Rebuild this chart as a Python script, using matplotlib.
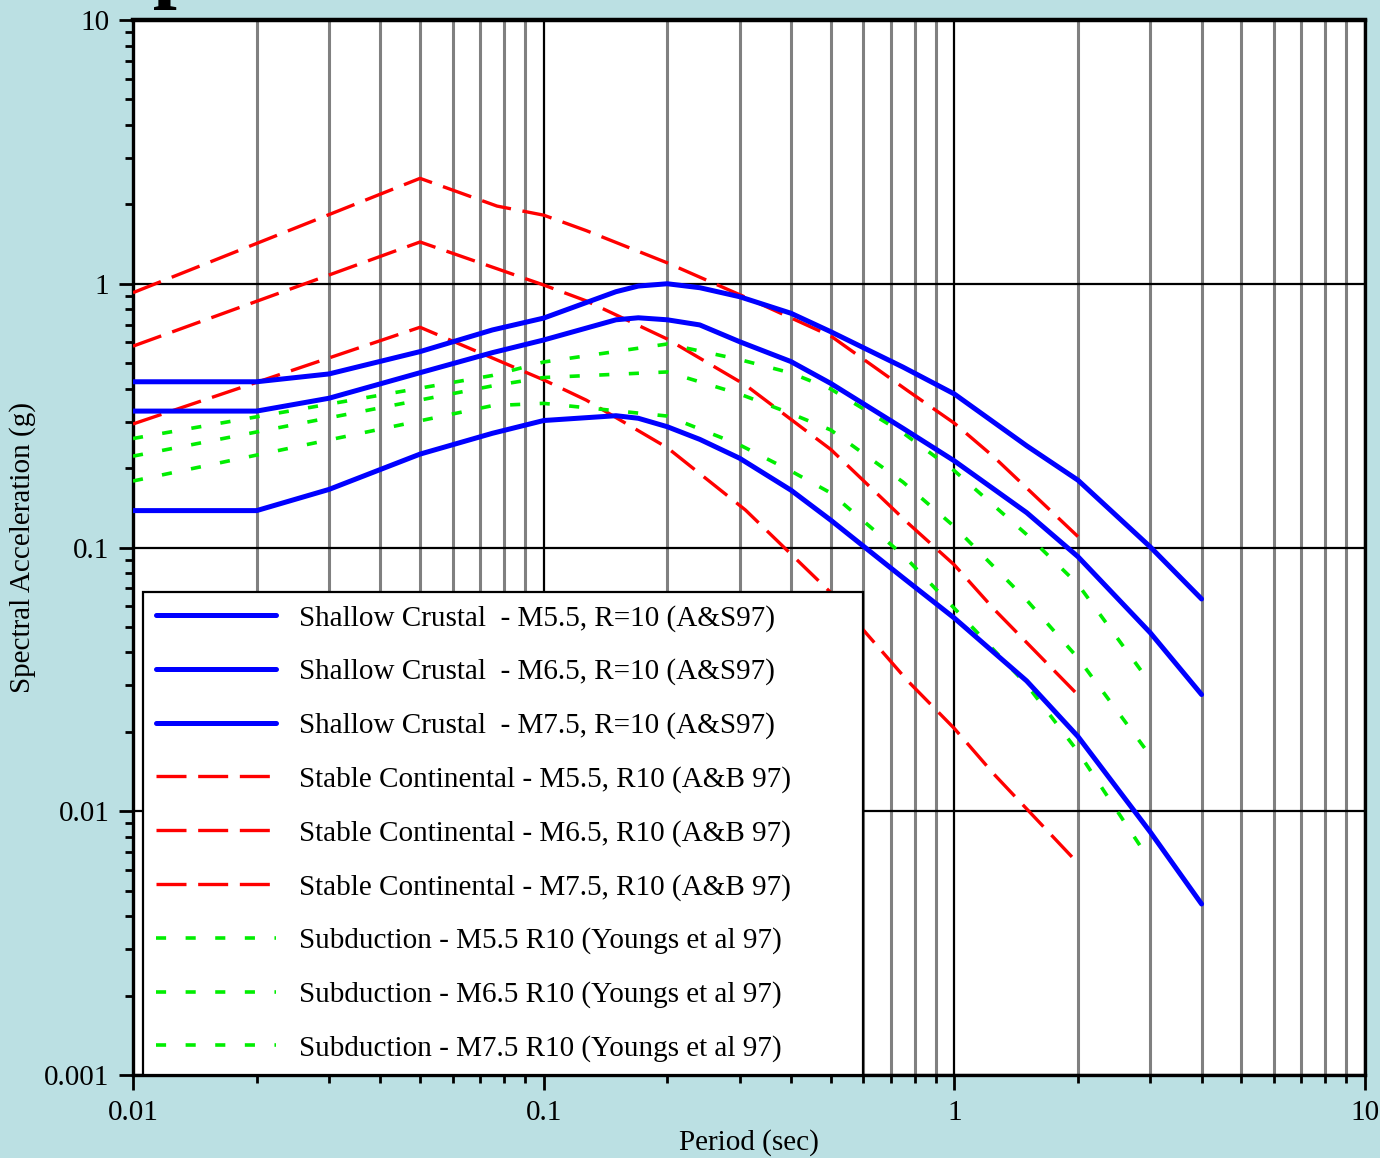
import matplotlib
matplotlib.use("Agg")
import matplotlib.pyplot as plt
from matplotlib.ticker import LogLocator, NullFormatter, FixedLocator, FixedFormatter

plt.rcParams["font.family"] = ["Liberation Serif", "DejaVu Serif"]

# Shallow crustal (Abrahamson & Silva 97), R = 10 km
sc_period = [0.01, 0.02, 0.03, 0.05, 0.075, 0.1, 0.15, 0.17, 0.2, 0.24,
             0.3, 0.4, 0.5, 0.75, 1.0, 1.5, 2.0, 3.0, 4.0]
sc_m55 = [0.138, 0.138, 0.166, 0.226, 0.271, 0.303, 0.316, 0.309, 0.287, 0.257,
          0.218, 0.165, 0.127, 0.0768, 0.054, 0.0312, 0.0192, 0.00834, 0.00445]
sc_m65 = [0.329, 0.329, 0.368, 0.46, 0.548, 0.612, 0.73, 0.743, 0.73, 0.698,
          0.603, 0.507, 0.419, 0.283, 0.213, 0.1356, 0.0923, 0.0475, 0.0277]
sc_m75 = [0.425, 0.425, 0.455, 0.553, 0.668, 0.741, 0.933, 0.98, 1.0, 0.966,
          0.893, 0.773, 0.658, 0.483, 0.382, 0.243, 0.180, 0.1005, 0.0638]

# Stable continental (Atkinson & Boore 97)
scr_period = [0.01, 0.05, 0.077, 0.1, 0.127, 0.2, 0.31, 0.5, 0.77, 1.0, 1.25, 2.0]
scr_m55 = [0.294, 0.684, 0.514, 0.432, 0.362, 0.239, 0.1387, 0.0675, 0.0312, 0.0206, 0.0138, 0.00635]
scr_m65 = [0.58, 1.44, 1.14, 0.989, 0.861, 0.617, 0.413, 0.2355, 0.124, 0.0859, 0.0583, 0.0276]
scr_m75 = [0.925, 2.51, 1.97, 1.82, 1.59, 1.20, 0.889, 0.634, 0.393, 0.296, 0.220, 0.110]

# Subduction (Youngs et al 97)
sub_period = [0.01, 0.075, 0.1, 0.2, 0.3, 0.4, 0.5, 0.75, 1.0, 1.5, 2.0, 3.0]
sub_m55 = [0.1787, 0.345, 0.352, 0.315, 0.245, 0.195, 0.161, 0.0937, 0.0588, 0.0302, 0.01683, 0.00647]
sub_m65 = [0.222, 0.41, 0.441, 0.463, 0.382, 0.322, 0.279, 0.177, 0.12, 0.0632, 0.0381, 0.01625]
sub_m75 = [0.259, 0.449, 0.505, 0.591, 0.516, 0.459, 0.399, 0.272, 0.1955, 0.112, 0.0725, 0.0306]

sc_labels = ["Shallow Crustal  - M5.5, R=10 (A&S97)",
             "Shallow Crustal  - M6.5, R=10 (A&S97)",
             "Shallow Crustal  - M7.5, R=10 (A&S97)"]
scr_labels = ["Stable Continental - M5.5, R10 (A&B 97)",
              "Stable Continental - M6.5, R10 (A&B 97)",
              "Stable Continental - M7.5, R10 (A&B 97)"]
sub_labels = ["Subduction - M5.5 R10 (Youngs et al 97)",
              "Subduction - M6.5 R10 (Youngs et al 97)",
              "Subduction - M7.5 R10 (Youngs et al 97)"]

x_ticks = [0.01, 0.1, 1, 10]
x_ticklabels = ["0.01", "0.1", "1", "10"]
y_ticks = [0.001, 0.01, 0.1, 1, 10]
y_ticklabels = ["0.001", "0.01", "0.1", "1", "10"]

BG = "#bbe0e3"
BLUE = "#0000ff"
RED = "#ff0000"
GREEN = "#00ee00"

fig = plt.figure(figsize=(13.8, 11.58), dpi=100, facecolor=BG)
ax = fig.add_axes([133 / 1380, 1 - 1075 / 1158, 1232 / 1380, 1055 / 1158])
ax.set_facecolor("white")
ax.set_xscale("log")
ax.set_yscale("log")
ax.set_xlim(0.01, 10)
ax.set_ylim(0.001, 10)

handles = []
for vals, lab in zip([sc_m55, sc_m65, sc_m75], sc_labels):
    h, = ax.plot(sc_period, vals, color=BLUE, lw=3.6, solid_capstyle="round",
                 solid_joinstyle="round", label=lab, zorder=4)
    handles.append(h)
for vals, lab in zip([scr_m55, scr_m65, scr_m75], scr_labels):
    h, = ax.plot(scr_period, vals, color=RED, lw=2.4, dashes=(9, 3.5),
                 dash_capstyle="butt", label=lab, zorder=3)
    handles.append(h)
for vals, lab in zip([sub_m55, sub_m65, sub_m75], sub_labels):
    h, = ax.plot(sub_period, vals, color=GREEN, lw=2.6, dashes=(2.8, 5.4),
                 dash_capstyle="butt", label=lab, zorder=3)
    handles.append(h)

# grid: grey at intermediate periods, black at every decade
ax.xaxis.set_major_locator(FixedLocator(x_ticks))
ax.xaxis.set_major_formatter(FixedFormatter(x_ticklabels))
ax.xaxis.set_minor_locator(LogLocator(base=10, subs=range(2, 10)))
ax.xaxis.set_minor_formatter(NullFormatter())
ax.yaxis.set_major_locator(FixedLocator(y_ticks))
ax.yaxis.set_major_formatter(FixedFormatter(y_ticklabels))
ax.yaxis.set_minor_locator(LogLocator(base=10, subs=range(2, 10)))
ax.yaxis.set_minor_formatter(NullFormatter())
ax.set_axisbelow(True)
ax.grid(which="minor", axis="x", color="#808080", lw=2.2)
ax.grid(which="major", axis="both", color="black", lw=1.6)

for side in ["left", "bottom", "top", "right"]:
    ax.spines[side].set_linewidth(2.4)
ax.spines["top"].set_linewidth(3.2)

ax.tick_params(which="major", direction="out", length=10, width=2, labelsize=21, pad=7)
ax.tick_params(which="minor", direction="out", length=5.5, width=2)
ax.tick_params(axis="x", which="major", length=11, pad=7)

ax.set_xlabel("Period (sec)", fontsize=21, labelpad=2)
ax.set_ylabel("Spectral Acceleration (g)", fontsize=21, labelpad=6)

leg = ax.legend(handles=handles, loc="lower left",
                bbox_to_anchor=(10 / 1232, 0.0, 720 / 1232, 0.2), mode="expand",
                fontsize=21, frameon=True, fancybox=False, framealpha=1,
                edgecolor="black", handlelength=4.1, handletextpad=0.8,
                labelspacing=0.92, borderpad=0.45, borderaxespad=0)
leg.get_frame().set_linewidth(1.6)
leg.set_zorder(6)

# slide heading, mostly above the top of the canvas
fig.text(105 / 1380, 1.0075, "Spectra", fontsize=62, fontweight="bold",
         va="baseline", ha="left")

fig.savefig("out.png", dpi=100, facecolor=BG)
